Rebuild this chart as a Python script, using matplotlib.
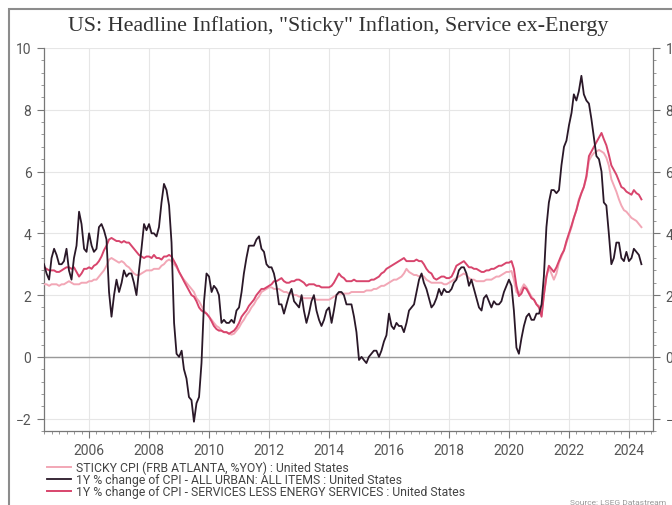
import numpy as np
import pandas as pd
import matplotlib
matplotlib.use("Agg")
import matplotlib.pyplot as plt
import matplotlib.dates as mdates
from matplotlib.ticker import MultipleLocator
from matplotlib.patches import Rectangle

# ---- data (monthly, Jul 2004 .. Jun 2024) ----
start_month = "2004-07-01"

headline = [
    3.0, 2.7, 2.5, 3.2, 3.5, 3.3,                                  # 2004 H2
    3.0, 3.0, 3.1, 3.5, 2.8, 2.5, 3.2, 3.6, 4.7, 4.3, 3.5, 3.4,    # 2005
    4.0, 3.6, 3.4, 3.5, 4.2, 4.3, 4.1, 3.8, 2.1, 1.3, 2.0, 2.5,    # 2006
    2.1, 2.4, 2.8, 2.6, 2.7, 2.7, 2.4, 2.0, 2.8, 3.5, 4.3, 4.1,    # 2007
    4.3, 4.0, 4.0, 3.9, 4.2, 5.0, 5.6, 5.4, 4.9, 3.7, 1.1, 0.1,    # 2008
    0.0, 0.2, -0.4, -0.7, -1.3, -1.4, -2.1, -1.5, -1.3, -0.2, 1.8, 2.7,  # 2009
    2.6, 2.1, 2.3, 2.2, 2.0, 1.1, 1.2, 1.1, 1.1, 1.2, 1.1, 1.5,    # 2010
    1.6, 2.1, 2.7, 3.2, 3.6, 3.6, 3.6, 3.8, 3.9, 3.5, 3.4, 3.0,    # 2011
    2.9, 2.9, 2.7, 2.3, 1.7, 1.7, 1.4, 1.7, 2.0, 2.2, 1.8, 1.7,    # 2012
    1.6, 2.0, 1.5, 1.1, 1.4, 1.8, 2.0, 1.5, 1.2, 1.0, 1.2, 1.5,    # 2013
    1.6, 1.1, 1.5, 2.0, 2.1, 2.1, 2.0, 1.7, 1.7, 1.7, 1.3, 0.8,    # 2014
    -0.1, 0.0, -0.1, -0.2, 0.0, 0.1, 0.2, 0.2, 0.0, 0.2, 0.5, 0.7, # 2015
    1.4, 1.0, 0.9, 1.1, 1.0, 1.0, 0.8, 1.1, 1.5, 1.6, 1.7, 2.1,    # 2016
    2.5, 2.7, 2.4, 2.2, 1.9, 1.6, 1.7, 1.9, 2.2, 2.0, 2.2, 2.1,    # 2017
    2.1, 2.2, 2.4, 2.5, 2.8, 2.9, 2.9, 2.7, 2.3, 2.5, 2.2, 1.9,    # 2018
    1.6, 1.5, 1.9, 2.0, 1.8, 1.6, 1.8, 1.7, 1.7, 1.8, 2.1, 2.3,    # 2019
    2.5, 2.3, 1.5, 0.3, 0.1, 0.6, 1.0, 1.3, 1.4, 1.2, 1.2, 1.4,    # 2020
    1.4, 1.7, 2.6, 4.2, 5.0, 5.4, 5.4, 5.3, 5.4, 6.2, 6.8, 7.0,    # 2021
    7.5, 7.9, 8.5, 8.3, 8.6, 9.1, 8.5, 8.3, 8.2, 7.7, 7.1, 6.5,    # 2022
    6.4, 6.0, 5.0, 4.9, 4.0, 3.0, 3.2, 3.7, 3.7, 3.2, 3.1, 3.4,    # 2023
    3.1, 3.2, 3.5, 3.4, 3.3, 3.0,                                  # 2024 H1
]

services = [
    2.9, 2.85, 2.8, 2.8, 2.8, 2.75,
    2.75, 2.8, 2.85, 2.9, 2.9, 2.85, 2.9, 2.75, 2.6, 2.7, 2.85, 2.85,
    2.9, 2.85, 2.95, 3.0, 3.1, 3.25, 3.45, 3.6, 3.8, 3.85, 3.8, 3.75,
    3.75, 3.7, 3.75, 3.7, 3.7, 3.6, 3.5, 3.4, 3.3, 3.25, 3.2, 3.25,
    3.25, 3.2, 3.3, 3.2, 3.2, 3.15, 3.25, 3.25, 3.3, 3.25, 3.1, 2.95,
    2.75, 2.6, 2.45, 2.3, 2.15, 2.0, 1.95, 1.8, 1.6, 1.5, 1.45, 1.4,
    1.3, 1.15, 1.0, 0.9, 0.85, 0.85, 0.8, 0.8, 0.75, 0.8, 0.85, 0.95,
    1.1, 1.3, 1.4, 1.5, 1.65, 1.75, 1.85, 2.0, 2.1, 2.2, 2.2, 2.25,
    2.3, 2.35, 2.45, 2.45, 2.5, 2.55, 2.45, 2.4, 2.4, 2.45, 2.45, 2.5,
    2.5, 2.45, 2.4, 2.3, 2.35, 2.35, 2.35, 2.3, 2.3, 2.25, 2.25, 2.25,
    2.25, 2.3, 2.4, 2.55, 2.7, 2.6, 2.55, 2.45, 2.45, 2.45, 2.5, 2.45,
    2.45, 2.45, 2.45, 2.45, 2.45, 2.5, 2.5, 2.55, 2.6, 2.7, 2.75, 2.85,
    2.9, 2.95, 3.0, 3.05, 3.1, 3.15, 3.2, 3.1, 3.1, 3.1, 3.1, 3.15,
    3.1, 3.1, 3.0, 2.85, 2.75, 2.7, 2.55, 2.5, 2.55, 2.6, 2.6, 2.55,
    2.55, 2.6, 2.75, 2.95, 3.0, 3.05, 3.1, 3.0, 2.9, 2.9, 2.85, 2.85,
    2.8, 2.75, 2.75, 2.8, 2.8, 2.85, 2.85, 2.9, 2.95, 2.95, 3.0, 3.05,
    3.05, 3.1, 2.85, 2.3, 1.97, 2.05, 2.25, 2.2, 2.05, 1.9, 1.85, 1.7,
    1.6, 1.3, 2.0, 2.6, 2.95, 2.85, 2.75, 2.9, 3.1, 3.3, 3.45, 3.75,
    4.0, 4.25, 4.5, 4.75, 5.05, 5.3, 5.5, 5.85, 6.5, 6.65, 6.8, 6.95,
    7.1, 7.25, 7.05, 6.85, 6.55, 6.2, 6.05, 5.9, 5.7, 5.5, 5.45, 5.35,
    5.3, 5.25, 5.4, 5.3, 5.25, 5.1,
]

sticky = [
    2.35, 2.35, 2.3, 2.35, 2.35, 2.35,
    2.3, 2.35, 2.35, 2.4, 2.45, 2.4, 2.35, 2.35, 2.35, 2.4, 2.4, 2.4,
    2.45, 2.45, 2.5, 2.5, 2.6, 2.7, 2.8, 2.95, 3.15, 3.2, 3.15, 3.1,
    3.05, 3.1, 3.05, 2.95, 2.9, 2.8, 2.7, 2.65, 2.65, 2.7, 2.75, 2.8,
    2.8, 2.8, 2.85, 2.85, 2.85, 2.95, 3.0, 3.1, 3.15, 3.1, 3.0, 2.9,
    2.75, 2.6, 2.5, 2.4, 2.3, 2.2, 2.1, 1.9, 1.8, 1.65, 1.5, 1.4,
    1.3, 1.2, 1.1, 1.0, 0.95, 0.85, 0.8, 0.8, 0.75, 0.72, 0.75, 0.85,
    0.95, 1.1, 1.2, 1.35, 1.45, 1.6, 1.7, 1.85, 1.95, 2.1, 2.15, 2.2,
    2.25, 2.25, 2.2, 2.2, 2.2, 2.15, 2.1, 2.1, 2.05, 2.05, 2.0, 2.0,
    1.95, 1.95, 1.9, 1.9, 1.9, 1.9, 1.9, 1.85, 1.85, 1.85, 1.85, 1.85,
    1.85, 1.9, 1.95, 2.0, 2.05, 2.05, 2.05, 2.05, 2.05, 2.1, 2.1, 2.1,
    2.1, 2.1, 2.1, 2.15, 2.15, 2.15, 2.2, 2.2, 2.25, 2.3, 2.3, 2.35,
    2.4, 2.45, 2.5, 2.5, 2.55, 2.6, 2.7, 2.85, 2.75, 2.7, 2.65, 2.65,
    2.6, 2.65, 2.6, 2.5, 2.45, 2.4, 2.4, 2.4, 2.4, 2.4, 2.35, 2.35,
    2.4, 2.45, 2.5, 2.55, 2.6, 2.65, 2.7, 2.65, 2.55, 2.5, 2.5, 2.45,
    2.45, 2.45, 2.45, 2.5, 2.5, 2.5, 2.55, 2.6, 2.6, 2.65, 2.7, 2.75,
    2.75, 2.78, 2.5, 2.1, 2.02, 2.2, 2.35, 2.25, 2.1, 1.95, 1.85, 1.7,
    1.65, 1.35, 2.0, 2.6, 2.9, 2.7, 2.5, 2.7, 3.05, 3.25, 3.45, 3.7,
    3.95, 4.2, 4.5, 4.75, 5.1, 5.3, 5.5, 5.8, 6.35, 6.5, 6.6, 6.65,
    6.7, 6.65, 6.6, 6.45, 6.2, 5.75, 5.55, 5.35, 5.1, 4.9, 4.75, 4.7,
    4.6, 4.5, 4.45, 4.4, 4.3, 4.2,
]

labels = [
    "STICKY CPI (FRB ATLANTA, %YOY) : United States",
    "1Y % change of CPI - ALL URBAN: ALL ITEMS : United States",
    "1Y % change of CPI - SERVICES LESS ENERGY SERVICES : United States",
]
title = 'US: Headline Inflation, "Sticky" Inflation, Service ex-Energy'
source = "Source: LSEG Datastream"

dates = pd.date_range(start_month, periods=len(headline), freq="MS")

c_sticky = "#f2a7b6"
c_head = "#2a1828"
c_serv = "#d8456d"

fig = plt.figure(figsize=(6.72, 5.06), dpi=100)
ax = fig.add_axes([44/672, 1-432/506, (653-44)/672, (432-49)/506])

ax.plot(dates, sticky, color=c_sticky, lw=1.4, label=labels[0], zorder=3)
ax.plot(dates, headline, color=c_head, lw=1.3, label=labels[1], zorder=5)
ax.plot(dates, services, color=c_serv, lw=1.4, label=labels[2], zorder=4)

ax.set_ylim(-2.4, 10)
ax.set_xlim(pd.Timestamp("2004-07-01"), pd.Timestamp("2024-10-20"))
ax.yaxis.set_major_locator(MultipleLocator(2))
ax.yaxis.set_minor_locator(MultipleLocator(0.4))
ax.xaxis.set_major_locator(mdates.YearLocator(2))
ax.xaxis.set_minor_locator(mdates.MonthLocator(bymonth=[1, 4, 7, 10]))
ax.xaxis.set_major_formatter(mdates.DateFormatter("%Y"))

ax.grid(True, which="major", color="#e6e6e6", lw=0.8, zorder=0)
ax.axhline(0, color="#999999", lw=1.0, zorder=2)

for s in ["left", "right", "bottom"]:
    ax.spines[s].set_color("#777777")
    ax.spines[s].set_linewidth(0.9)
ax.spines["top"].set_visible(False)

ax.tick_params(axis="both", which="major", direction="out", length=5, width=0.8,
               color="#777777", labelcolor="#555555", labelsize=10)
ax.tick_params(axis="both", which="minor", direction="out", length=2.5, width=0.6,
               color="#888888")
ax.tick_params(axis="y", which="both", right=True, labelright=True)
for lab in ax.get_xticklabels() + ax.get_yticklabels():
    lab.set_fontfamily("Roboto")
ax.tick_params(axis="x", pad=4)
ax.tick_params(axis="y", pad=4)

fig.text(338/672, 1-26/506, title, ha="center", va="center",
         fontsize=15.8, color="#333333", family="Liberation Serif")

leg = ax.legend(loc="upper left", bbox_to_anchor=(47/672, 1-462/506),
                bbox_transform=fig.transFigure, frameon=False,
                handlelength=2.0, handletextpad=0.4, labelspacing=-0.1,
                borderaxespad=0, borderpad=0,
                prop={"family": "Roboto", "size": 8.8})
for t in leg.get_texts():
    t.set_color("#444444")

fig.text(570/672, 1-500/506, source, ha="left", va="top",
         fontsize=6, color="#999999", family="Roboto")

fig.patches.append(Rectangle((9/672, -0.1), 1.2, 1 + 0.1 - 10/506,
                             transform=fig.transFigure, fill=False,
                             edgecolor="#8c8c8c", lw=1.5, zorder=10))

fig.savefig("out.png", dpi=100)
